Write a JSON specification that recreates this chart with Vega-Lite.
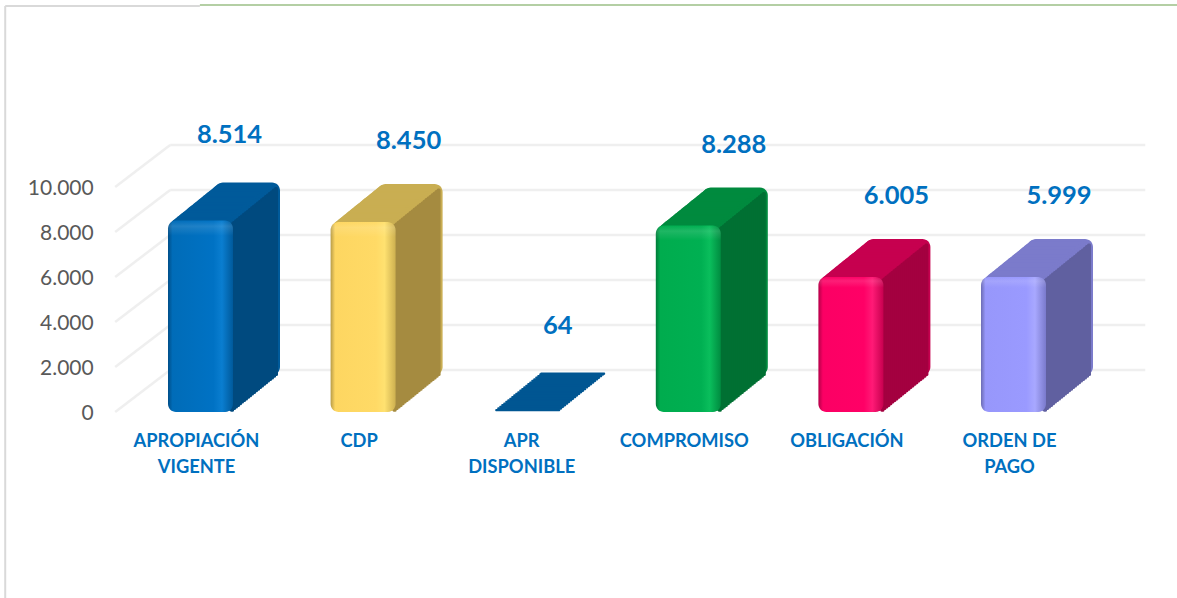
{"$schema":"https://vega.github.io/schema/vega-lite/v6.json","width":975.6,"height":225,"autosize":{"type":"none"},"padding":{"left":119.2,"top":187,"right":82.2,"bottom":186},"background":"white","config":{"view":{"stroke":null},"locale":{"number":{"decimal":",","thousands":".","grouping":[3],"currency":["$",""]}},"bar":{"width":65,"cornerRadius":8},"axisY":{"domain":false,"ticks":false,"grid":false,"labelFont":"Lato","labelFontSize":21,"labelColor":"#595959","labelPadding":26,"labelOffset":1.5}},"data":{"values":[{"name":"APROPIACIÓN VIGENTE","value":8514},{"name":"CDP","value":8450},{"name":"APR DISPONIBLE","value":64},{"name":"COMPROMISO","value":8288},{"name":"OBLIGACIÓN","value":6005},{"name":"ORDEN DE PAGO","value":5999}]},"resolve":{"scale":{"x":"independent"}},"layer":[{"data":{"values":[{"tick":0,"back":1867},{"tick":2000,"back":3867},{"tick":4000,"back":5867},{"tick":6000,"back":7867},{"tick":8000,"back":9867},{"tick":10000,"back":11867}]},"encoding":{"x":{"datum":1,"type":"quantitative","axis":null,"scale":{"domain":[0.0727,17.8127]}}},"layer":[{"mark":{"type":"rule","stroke":"#efefef","strokeWidth":2.5},"encoding":{"x2":{"datum":18.73},"y":{"field":"back","type":"quantitative","title":null,"axis":{"labelExpr":"format(datum.value,',')","values":[0,2000,4000,6000,8000,10000]},"scale":{"domain":[0,10000]}}}},{"mark":{"type":"rule","stroke":"#efefef","strokeWidth":2.5},"encoding":{"x":{"datum":0,"type":"quantitative","axis":null,"scale":{"domain":[0.0727,17.8127]}},"x2":{"datum":1},"y":{"field":"tick","type":"quantitative","title":null,"axis":{"labelExpr":"format(datum.value,',')","values":[0,2000,4000,6000,8000,10000]},"scale":{"domain":[0,10000]}},"y2":{"field":"back"}}},{"data":{"values":[{"edge":"left"}]},"mark":{"type":"rule","stroke":"#d9d9d9","strokeWidth":2},"encoding":{"x":{"datum":-2,"type":"quantitative","axis":null,"scale":{"domain":[0.0727,17.8127]}},"y":{"datum":18044,"type":"quantitative","title":null,"axis":{"labelExpr":"format(datum.value,',')","values":[0,2000,4000,6000,8000,10000]},"scale":{"domain":[0,10000]}},"y2":{"datum":-8300}}},{"data":{"values":[{"edge":"top"}]},"mark":{"type":"rule","stroke":"#d9d9d9","strokeWidth":2},"encoding":{"x":{"datum":-2,"type":"quantitative","axis":null,"scale":{"domain":[0.0727,17.8127]}},"x2":{"datum":1.54},"y":{"datum":18044,"type":"quantitative","title":null,"axis":{"labelExpr":"format(datum.value,',')","values":[0,2000,4000,6000,8000,10000]},"scale":{"domain":[0,10000]}}}},{"data":{"values":[{"edge":"top right"}]},"mark":{"type":"rule","stroke":"#b4cfa4","strokeWidth":2},"encoding":{"x":{"datum":1.54,"type":"quantitative","axis":null,"scale":{"domain":[0.0727,17.8127]}},"x2":{"datum":19.31},"y":{"datum":18089,"type":"quantitative","title":null,"axis":{"labelExpr":"format(datum.value,',')","values":[0,2000,4000,6000,8000,10000]},"scale":{"domain":[0,10000]}}}}]},{"encoding":{"x":{"field":"name","type":"nominal","sort":null,"title":null,"scale":{"paddingInner":0,"paddingOuter":0},"axis":{"domain":false,"ticks":false,"grid":false,"labelAngle":0,"labelFont":"Lato","labelFontWeight":"bold","labelFontSize":18.3,"labelColor":"#0070C0","labelPadding":20,"labelOffset":-4,"labelLineHeight":26,"labelBaseline":"top","labelLimit":300,"labelExpr":"datum.label=='APROPIACIÓN VIGENTE'?['APROPIACIÓN','VIGENTE']:datum.label=='APR DISPONIBLE'?['APR','DISPONIBLE']:datum.label=='ORDEN DE PAGO'?['ORDEN DE','PAGO']:datum.label"}},"y":{"field":"value","type":"quantitative","title":null,"stack":null,"axis":{"labelExpr":"format(datum.value,',')","values":[0,2000,4000,6000,8000,10000]},"scale":{"domain":[0,10000]}}},"layer":[{"encoding":{"y2":{"datum":-40},"fill":{"field":"name","legend":null,"scale":{"domain":["APROPIACIÓN VIGENTE","CDP","APR DISPONIBLE","COMPROMISO","OBLIGACIÓN","ORDEN DE PAGO"],"range":["#005A9A","#C9AE52","#005692","#008A3E","#C6004F","#7B7BCB"]}}},"layer":[{"mark":{"type":"bar","xOffset":47,"yOffset":-38,"y2Offset":-38}},{"mark":{"type":"bar","xOffset":46,"yOffset":-37.2,"y2Offset":-37.2}},{"mark":{"type":"bar","xOffset":44,"yOffset":-35.6,"y2Offset":-35.6}},{"mark":{"type":"bar","xOffset":42,"yOffset":-34,"y2Offset":-34}},{"mark":{"type":"bar","xOffset":40,"yOffset":-32.3,"y2Offset":-32.3}},{"mark":{"type":"bar","xOffset":38,"yOffset":-30.7,"y2Offset":-30.7}},{"mark":{"type":"bar","xOffset":36,"yOffset":-29.1,"y2Offset":-29.1}},{"mark":{"type":"bar","xOffset":34,"yOffset":-27.5,"y2Offset":-27.5}},{"mark":{"type":"bar","xOffset":32,"yOffset":-25.9,"y2Offset":-25.9}},{"mark":{"type":"bar","xOffset":30,"yOffset":-24.3,"y2Offset":-24.3}},{"mark":{"type":"bar","xOffset":28,"yOffset":-22.6,"y2Offset":-22.6}},{"mark":{"type":"bar","xOffset":26,"yOffset":-21,"y2Offset":-21}},{"mark":{"type":"bar","xOffset":24,"yOffset":-19.4,"y2Offset":-19.4}},{"mark":{"type":"bar","xOffset":22,"yOffset":-17.8,"y2Offset":-17.8}},{"mark":{"type":"bar","xOffset":20,"yOffset":-16.2,"y2Offset":-16.2}},{"mark":{"type":"bar","xOffset":18,"yOffset":-14.6,"y2Offset":-14.6}},{"mark":{"type":"bar","xOffset":16,"yOffset":-12.9,"y2Offset":-12.9}},{"mark":{"type":"bar","xOffset":14,"yOffset":-11.3,"y2Offset":-11.3}},{"mark":{"type":"bar","xOffset":12,"yOffset":-9.7,"y2Offset":-9.7}},{"mark":{"type":"bar","xOffset":10,"yOffset":-8.1,"y2Offset":-8.1}},{"mark":{"type":"bar","xOffset":8,"yOffset":-6.5,"y2Offset":-6.5}},{"mark":{"type":"bar","xOffset":6,"yOffset":-4.9,"y2Offset":-4.9}},{"mark":{"type":"bar","xOffset":4,"yOffset":-3.2,"y2Offset":-3.2}},{"mark":{"type":"bar","xOffset":2,"yOffset":-1.6,"y2Offset":-1.6}}]},{"transform":[{"filter":"datum.value>1000"}],"encoding":{"y2":{"datum":240},"stroke":{"field":"name","legend":null,"scale":{"domain":["APROPIACIÓN VIGENTE","CDP","APR DISPONIBLE","COMPROMISO","OBLIGACIÓN","ORDEN DE PAGO"],"range":["#004A7F","#A58B40","#004A7F","#007033","#A40040","#6060A0"]}}},"layer":[{"mark":{"type":"bar","width":1,"cornerRadius":0,"strokeWidth":3,"strokeJoin":"round","xOffset":75.5,"yOffset":-32,"y2Offset":-32}},{"mark":{"type":"bar","width":1,"cornerRadius":0,"strokeWidth":3,"strokeJoin":"round","xOffset":73.5,"yOffset":-30.4,"y2Offset":-30.4}},{"mark":{"type":"bar","width":1,"cornerRadius":0,"strokeWidth":3,"strokeJoin":"round","xOffset":71.5,"yOffset":-28.7,"y2Offset":-28.7}},{"mark":{"type":"bar","width":1,"cornerRadius":0,"strokeWidth":3,"strokeJoin":"round","xOffset":69.5,"yOffset":-27.1,"y2Offset":-27.1}},{"mark":{"type":"bar","width":1,"cornerRadius":0,"strokeWidth":3,"strokeJoin":"round","xOffset":67.5,"yOffset":-25.5,"y2Offset":-25.5}},{"mark":{"type":"bar","width":1,"cornerRadius":0,"strokeWidth":3,"strokeJoin":"round","xOffset":65.5,"yOffset":-23.9,"y2Offset":-23.9}},{"mark":{"type":"bar","width":1,"cornerRadius":0,"strokeWidth":3,"strokeJoin":"round","xOffset":63.5,"yOffset":-22.3,"y2Offset":-22.3}},{"mark":{"type":"bar","width":1,"cornerRadius":0,"strokeWidth":3,"strokeJoin":"round","xOffset":61.5,"yOffset":-20.6,"y2Offset":-20.6}},{"mark":{"type":"bar","width":1,"cornerRadius":0,"strokeWidth":3,"strokeJoin":"round","xOffset":59.5,"yOffset":-19,"y2Offset":-19}},{"mark":{"type":"bar","width":1,"cornerRadius":0,"strokeWidth":3,"strokeJoin":"round","xOffset":57.5,"yOffset":-17.4,"y2Offset":-17.4}},{"mark":{"type":"bar","width":1,"cornerRadius":0,"strokeWidth":3,"strokeJoin":"round","xOffset":55.5,"yOffset":-15.8,"y2Offset":-15.8}},{"mark":{"type":"bar","width":1,"cornerRadius":0,"strokeWidth":3,"strokeJoin":"round","xOffset":53.5,"yOffset":-14.2,"y2Offset":-14.2}},{"mark":{"type":"bar","width":1,"cornerRadius":0,"strokeWidth":3,"strokeJoin":"round","xOffset":51.5,"yOffset":-12.6,"y2Offset":-12.6}},{"mark":{"type":"bar","width":1,"cornerRadius":0,"strokeWidth":3,"strokeJoin":"round","xOffset":49.5,"yOffset":-10.9,"y2Offset":-10.9}},{"mark":{"type":"bar","width":1,"cornerRadius":0,"strokeWidth":3,"strokeJoin":"round","xOffset":47.5,"yOffset":-9.3,"y2Offset":-9.3}},{"mark":{"type":"bar","width":1,"cornerRadius":0,"strokeWidth":3,"strokeJoin":"round","xOffset":45.5,"yOffset":-7.7,"y2Offset":-7.7}},{"mark":{"type":"bar","width":1,"cornerRadius":0,"strokeWidth":3,"strokeJoin":"round","xOffset":43.5,"yOffset":-6.1,"y2Offset":-6.1}},{"mark":{"type":"bar","width":1,"cornerRadius":0,"strokeWidth":3,"strokeJoin":"round","xOffset":41.5,"yOffset":-4.5,"y2Offset":-4.5}},{"mark":{"type":"bar","width":1,"cornerRadius":0,"strokeWidth":3,"strokeJoin":"round","xOffset":39.5,"yOffset":-2.9,"y2Offset":-2.9}},{"mark":{"type":"bar","width":1,"cornerRadius":0,"strokeWidth":3,"strokeJoin":"round","xOffset":37.5,"yOffset":-1.2,"y2Offset":-1.2}},{"mark":{"type":"bar","width":1,"cornerRadius":0,"strokeWidth":3,"strokeJoin":"round","xOffset":35.5,"yOffset":0.4,"y2Offset":0.4}},{"mark":{"type":"bar","width":1,"cornerRadius":0,"strokeWidth":3,"strokeJoin":"round","xOffset":33.5,"yOffset":2,"y2Offset":2}},{"mark":{"type":"bar","width":1,"cornerRadius":0,"strokeWidth":3,"strokeJoin":"round","xOffset":31.5,"yOffset":3.6,"y2Offset":3.6}}]},{"transform":[{"filter":"datum.name=='APROPIACIÓN VIGENTE'"}],"mark":{"type":"bar","fill":{"gradient":"linear","x1":0,"y1":0,"x2":1,"y2":0,"stops":[{"offset":0,"color":"#004E88"},{"offset":0.07,"color":"#006CB8"},{"offset":0.7,"color":"#0072C4"},{"offset":0.83,"color":"#0A7ED0"},{"offset":1,"color":"#005A9C"}]}}},{"transform":[{"filter":"datum.name=='CDP'"}],"mark":{"type":"bar","fill":{"gradient":"linear","x1":0,"y1":0,"x2":1,"y2":0,"stops":[{"offset":0,"color":"#B89C48"},{"offset":0.07,"color":"#FDD661"},{"offset":0.7,"color":"#FFDA66"},{"offset":0.83,"color":"#FFE170"},{"offset":1,"color":"#CDB050"}]}}},{"transform":[{"filter":"datum.name=='COMPROMISO'"}],"mark":{"type":"bar","fill":{"gradient":"linear","x1":0,"y1":0,"x2":1,"y2":0,"stops":[{"offset":0,"color":"#007A38"},{"offset":0.07,"color":"#00AC4E"},{"offset":0.7,"color":"#00B052"},{"offset":0.83,"color":"#0ABE5C"},{"offset":1,"color":"#008C40"}]}}},{"transform":[{"filter":"datum.name=='OBLIGACIÓN'"}],"mark":{"type":"bar","fill":{"gradient":"linear","x1":0,"y1":0,"x2":1,"y2":0,"stops":[{"offset":0,"color":"#B40048"},{"offset":0.07,"color":"#FB0064"},{"offset":0.7,"color":"#FF0066"},{"offset":0.83,"color":"#FF1A76"},{"offset":1,"color":"#C8004F"}]}}},{"transform":[{"filter":"datum.name=='ORDEN DE PAGO'"}],"mark":{"type":"bar","fill":{"gradient":"linear","x1":0,"y1":0,"x2":1,"y2":0,"stops":[{"offset":0,"color":"#6C6CB4"},{"offset":0.07,"color":"#9797FB"},{"offset":0.7,"color":"#9A9AFF"},{"offset":0.83,"color":"#A8A8FF"},{"offset":1,"color":"#7A7ACC"}]}}},{"transform":[{"filter":"datum.value>1000"}],"mark":{"type":"bar","fill":{"gradient":"linear","x1":0,"y1":0,"x2":0,"y2":1,"stops":[{"offset":0,"color":"rgba(255,255,255,0)"},{"offset":0.03,"color":"rgba(255,255,255,0.12)"},{"offset":0.08,"color":"rgba(255,255,255,0)"},{"offset":1,"color":"rgba(255,255,255,0)"}]}}},{"transform":[{"filter":"datum.name=='APROPIACIÓN VIGENTE'"}],"mark":{"type":"text","font":"Lato","fontWeight":"bold","fontSize":25.5,"color":"#0070C0","baseline":"middle","dx":29,"dy":-85},"encoding":{"text":{"field":"value","type":"quantitative","format":","}}},{"transform":[{"filter":"datum.name=='APR DISPONIBLE'"}],"mark":{"type":"text","font":"Lato","fontWeight":"bold","fontSize":25.5,"color":"#0070C0","baseline":"middle","dx":32,"dy":-85},"encoding":{"text":{"field":"value","type":"quantitative","format":","}}},{"transform":[{"filter":"datum.name!='APR DISPONIBLE'&&datum.name!='APROPIACIÓN VIGENTE'"}],"mark":{"type":"text","font":"Lato","fontWeight":"bold","fontSize":25.5,"color":"#0070C0","baseline":"middle","dx":45.5,"dy":-81},"encoding":{"text":{"field":"value","type":"quantitative","format":","}}}]}]}
